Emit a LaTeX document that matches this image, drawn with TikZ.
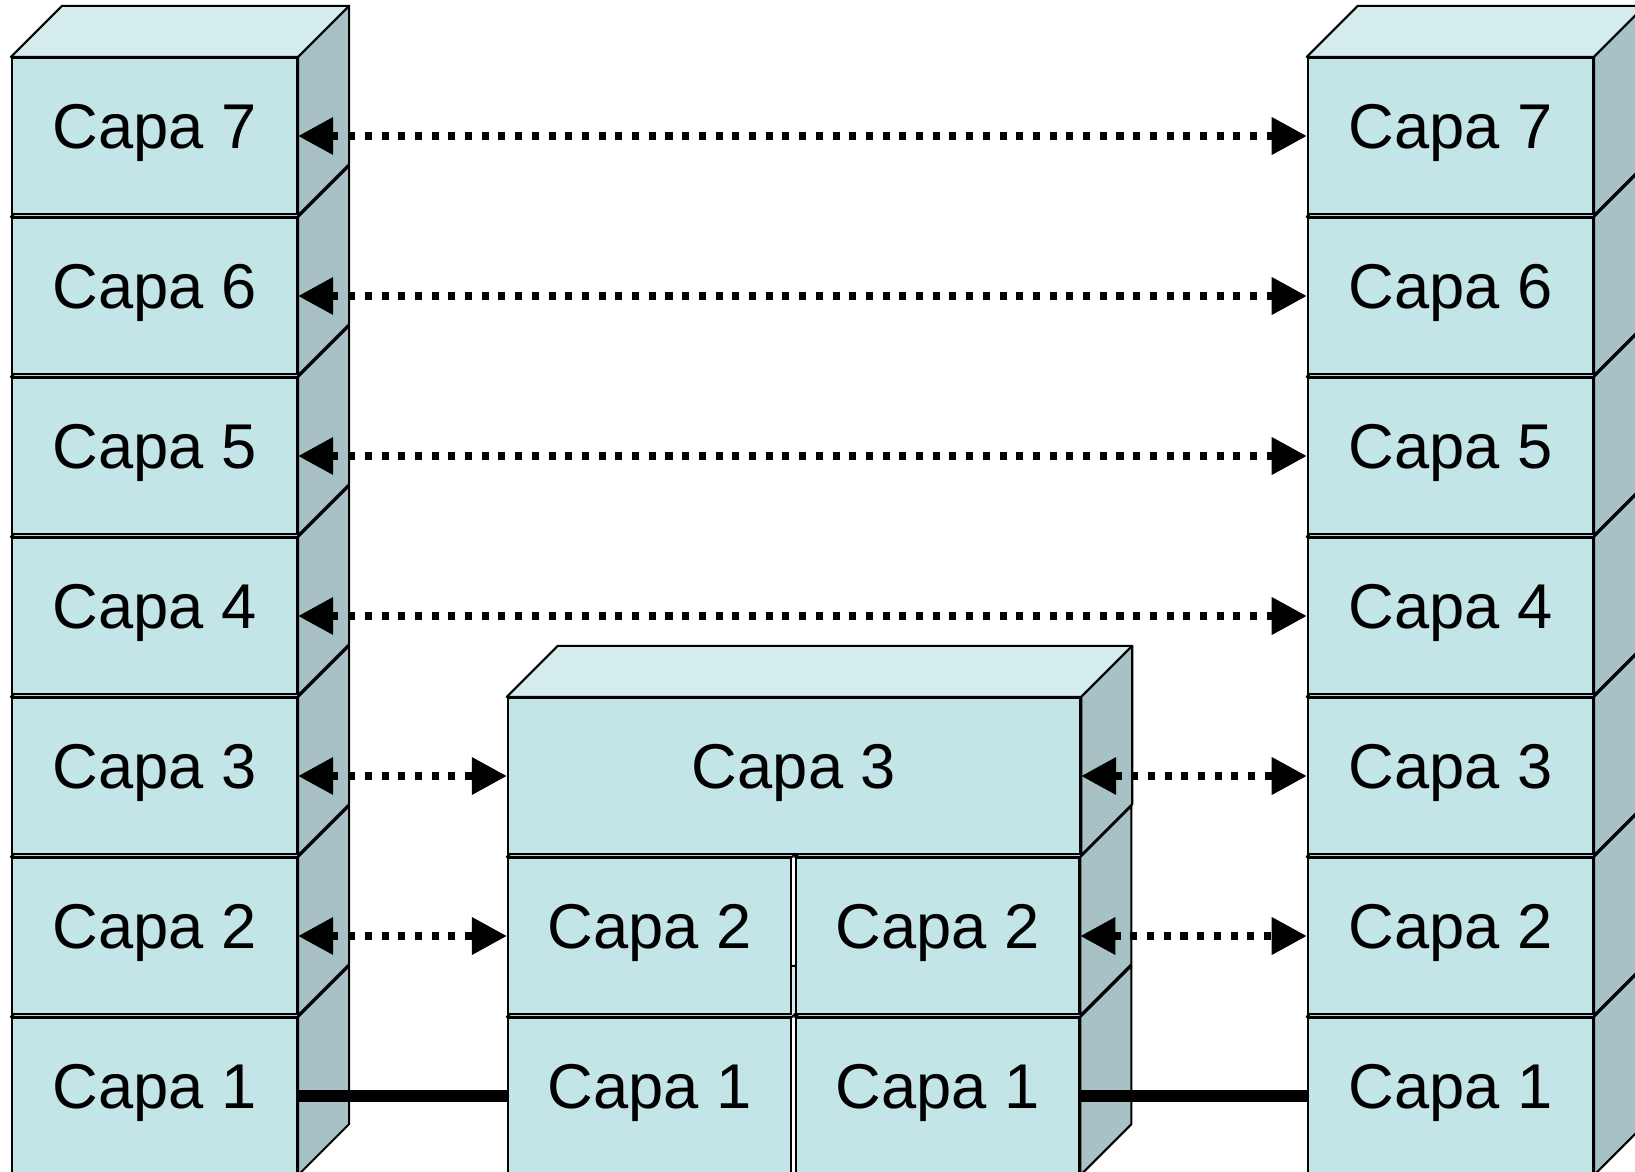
\documentclass[tikz,border=0pt]{standalone}
\usepackage{fontspec}
\setmainfont{Liberation Sans}
\usetikzlibrary{arrows.meta,positioning}
\definecolor{frente}{HTML}{C4E5E8}
\definecolor{arriba}{HTML}{D3ECEE}
\definecolor{costado}{HTML}{A8C1C4}
\tikzset{
    capa/.style={draw,fill=frente,line width=0.6pt,minimum width=2.85cm,minimum height=1.56cm,inner sep=0pt,text height=12pt,text depth=5pt,font=\fontsize{18}{20}\selectfont},
    tapa/.style={draw,fill=arriba,line width=0.6pt,line join=round},
    lado/.style={draw,fill=costado,line width=0.6pt,line join=round},
    flecha/.style={draw,{Triangle[length=0.35cm,width=0.36cm]}-{Triangle[length=0.35cm,width=0.36cm]},line width=2pt,dash pattern=on 2pt off 2.75pt},
    cable/.style={draw,line width=0.12cm},
}
\newcommand{\tapacaja}[1]{\draw[tapa] (#1.north west) -- ++(51,-51) -- ([shift={(51,-51)}]#1.north east) -- (#1.north east) -- cycle;}
\newcommand{\ladocaja}[1]{\draw[lado] (#1.north east) -- ++(51,-51) -- ([shift={(51,-51)}]#1.south east) -- (#1.south east) -- cycle;}

\begin{document}
\begin{tikzpicture}[x=0.01cm,y=-0.01cm]
\useasboundingbox (0,0) rectangle (1635,1172);

% pilas de los extremos, de abajo hacia arriba
\foreach \n in {1,...,7}{
  \pgfmathsetmacro\yc{136+(7-\n)*160}
  \node[capa] (l\n) at (154.5,\yc) {Capa \n};
  \tapacaja{l\n} \ladocaja{l\n}
  \node[capa,right=10.08cm of l\n] (r\n) {Capa \n};
  \tapacaja{r\n} \ladocaja{r\n}
}

% equipo del medio
\node[capa,minimum width=2.83cm] (m1i) at (649.5,1096) {Capa 1};
\tapacaja{m1i}
\node[capa,minimum width=2.83cm,right=0.03cm of m1i] (m1d) {Capa 1};
\tapacaja{m1d} \ladocaja{m1d}
\node[capa,minimum width=2.83cm] (m2i) at (649.5,936) {Capa 2};
\tapacaja{m2i}
\node[capa,minimum width=2.83cm,right=0.03cm of m2i] (m2d) {Capa 2};
\tapacaja{m2d} \ladocaja{m2d}
\node[capa,minimum width=5.72cm] (m3) at (794,776) {Capa 3};
\tapacaja{m3} \ladocaja{m3}

% flechas
\foreach \n in {4,...,7}
  \draw[flecha] (l\n.east) -- (r\n.west);
\draw[flecha] (l3.east) -- (m3.west);
\draw[flecha] (m3.east) -- (r3.west);
\draw[flecha] (l2.east) -- (m2i.west);
\draw[flecha] (m2d.east) -- (r2.west);
\draw[cable] (l1.east) -- (m1i.west);
\draw[cable] (m1d.east) -- (r1.west);
\end{tikzpicture}
\end{document}
